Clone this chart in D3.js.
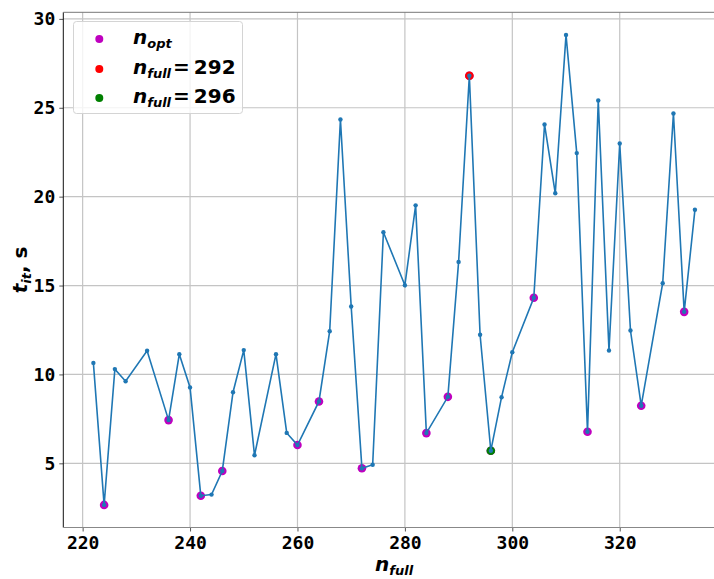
<!DOCTYPE html>
<html><head><meta charset="utf-8">
<script src="https://cdn.jsdelivr.net/npm/d3@7"></script>
<style>body{margin:0;background:#fff;}svg{display:block;}</style>
</head><body>
<svg id="c" width="714" height="579"></svg>
<script>
const nFull = [222,224,226,228,232,236,238,240,242,244,246,248,250,252,256,258,260,264,266,268,270,272,274,276,280,282,284,288,290,292,294,296,298,300,304,306,308,310,312,314,316,318,320,322,324,328,330,332,334];
const tIt = [10.65,2.66,10.3,9.62,11.33,7.43,11.14,9.27,3.18,3.24,4.57,9.0,11.37,5.45,11.14,6.71,6.03,8.48,12.43,24.34,13.82,4.72,4.92,18.0,15.02,19.51,6.70,8.74,16.33,26.8,12.23,5.71,8.72,11.25,14.31,24.06,20.19,29.1,22.45,6.78,25.41,11.35,22.99,12.47,8.24,15.13,24.68,13.52,19.26];
const nOpt = [224,236,242,246,260,264,272,284,288,292,296,304,314,324,332];
const redN = 292, greenN = 296;
const xTicks = [220,240,260,280,300,320];
const yTicks = [5,10,15,20,25,30];

const data = nFull.map((n,i)=>({n, t:tIt[i]}));
const lookup = new Map(data.map(d=>[d.n,d.t]));

const svg = d3.select("#c");
const L=63.3, R=725, T=12.3, B=527.5;
const x = d3.scaleLinear().domain([216.4,339.6]).range([L,R]);
const y = d3.scaleLinear().domain([1.39,30.37]).range([B,T]);

// grid
const g = svg.append("g");
g.selectAll(".gx").data(xTicks).join("line")
  .attr("x1",d=>x(d)).attr("x2",d=>x(d)).attr("y1",T).attr("y2",B)
  .attr("stroke","#c4c4c4").attr("stroke-width",1.2);
g.selectAll(".gy").data(yTicks).join("line")
  .attr("y1",d=>y(d)).attr("y2",d=>y(d)).attr("x1",L).attr("x2",R)
  .attr("stroke","#c4c4c4").attr("stroke-width",1.2);

// axes
const mono = "'DejaVu Sans Mono', monospace";
const xAxis = svg.append("g").attr("transform",`translate(0,${B})`)
  .call(d3.axisBottom(x).tickValues(xTicks).tickSize(4).tickPadding(5).tickFormat(d3.format("d")));
const yAxis = svg.append("g").attr("transform",`translate(${L},0)`)
  .call(d3.axisLeft(y).tickValues(yTicks).tickSize(4).tickPadding(4).tickFormat(d3.format("d")));
[xAxis,yAxis].forEach(a=>{
  a.selectAll("text").attr("font-family",mono).attr("font-weight","bold").attr("font-size",18).attr("fill","#000");
  a.selectAll(".tick line").attr("stroke","#555");
  a.select(".domain").remove();
});
// spines
svg.append("line").attr("x1",L).attr("x2",L).attr("y1",T).attr("y2",B).attr("stroke","#111").attr("stroke-width",1);
svg.append("line").attr("x1",L).attr("x2",R).attr("y1",T).attr("y2",T).attr("stroke","#777").attr("stroke-width",1);
svg.append("line").attr("x1",L).attr("x2",R).attr("y1",B).attr("y2",B).attr("stroke","#888").attr("stroke-width",1.2);

// scatter optimum points
const mag = "#bf00bf";
svg.append("g").selectAll("circle").data(nOpt).join("circle")
  .attr("cx",d=>x(d)).attr("cy",d=>y(lookup.get(d))).attr("r",4.3).attr("fill",mag);
svg.append("circle").attr("cx",x(redN)).attr("cy",y(lookup.get(redN))).attr("r",4.3).attr("fill","#ff0000");
svg.append("circle").attr("cx",x(greenN)).attr("cy",y(lookup.get(greenN))).attr("r",4.3).attr("fill","#008000");

// line
const blue = "#1f77b4";
svg.append("path").datum(data)
  .attr("d",d3.line().x(d=>x(d.n)).y(d=>y(d.t)))
  .attr("fill","none").attr("stroke",blue).attr("stroke-width",1.6);
svg.append("g").selectAll("circle").data(data).join("circle")
  .attr("cx",d=>x(d.n)).attr("cy",d=>y(d.t)).attr("r",2.2).attr("fill",blue);

// axis labels
const sans = "'DejaVu Sans', sans-serif";
const xl = svg.append("text").attr("x",(L+R)/2).attr("y",571).attr("text-anchor","middle")
  .attr("font-family",sans).attr("font-weight","bold").attr("font-size",20).attr("fill","#000");
xl.append("tspan").attr("font-style","italic").text("n");
xl.append("tspan").attr("font-style","italic").attr("font-size",13).attr("dy",4).text("full");

const yl = svg.append("text").attr("transform",`translate(27,${(T+B)/2}) rotate(-90)`).attr("text-anchor","middle")
  .attr("font-family",sans).attr("font-weight","bold").attr("font-size",20).attr("fill","#000");
yl.append("tspan").attr("font-style","italic").text("t");
yl.append("tspan").attr("font-style","italic").attr("font-size",13).attr("dy",4).text("it");
yl.append("tspan").attr("dy",-4).text(", s");

// legend
const lg = svg.append("g");
lg.append("rect").attr("x",73.5).attr("y",21.5).attr("width",169).attr("height",92).attr("rx",3)
  .attr("fill","#fff").attr("fill-opacity",0.8).attr("stroke","#d4d4d4").attr("stroke-width",1);
const items = [
  {c:mag, sub:"opt", rest:null},
  {c:"#ff0000", sub:"full", rest:redN},
  {c:"#008000", sub:"full", rest:greenN}
];
const ly = [39, 69, 98];
items.forEach((it,i)=>{
  lg.append("circle").attr("cx",99.3).attr("cy",ly[i]).attr("r",4).attr("fill",it.c);
  const t = lg.append("text").attr("x",133).attr("y",ly[i]+5)
    .attr("font-family",sans).attr("font-weight","bold").attr("font-size",20).attr("fill","#000");
  t.append("tspan").attr("font-style","italic").text("n");
  t.append("tspan").attr("font-style","italic").attr("font-size",13).attr("dy",4).text(it.sub);
  if(it.rest!==null){
    t.append("tspan").attr("dy",-4).attr("dx",2).text("=");
    t.append("tspan").attr("dx",4).text(String(it.rest));
  }
});
</script>
</body></html>
